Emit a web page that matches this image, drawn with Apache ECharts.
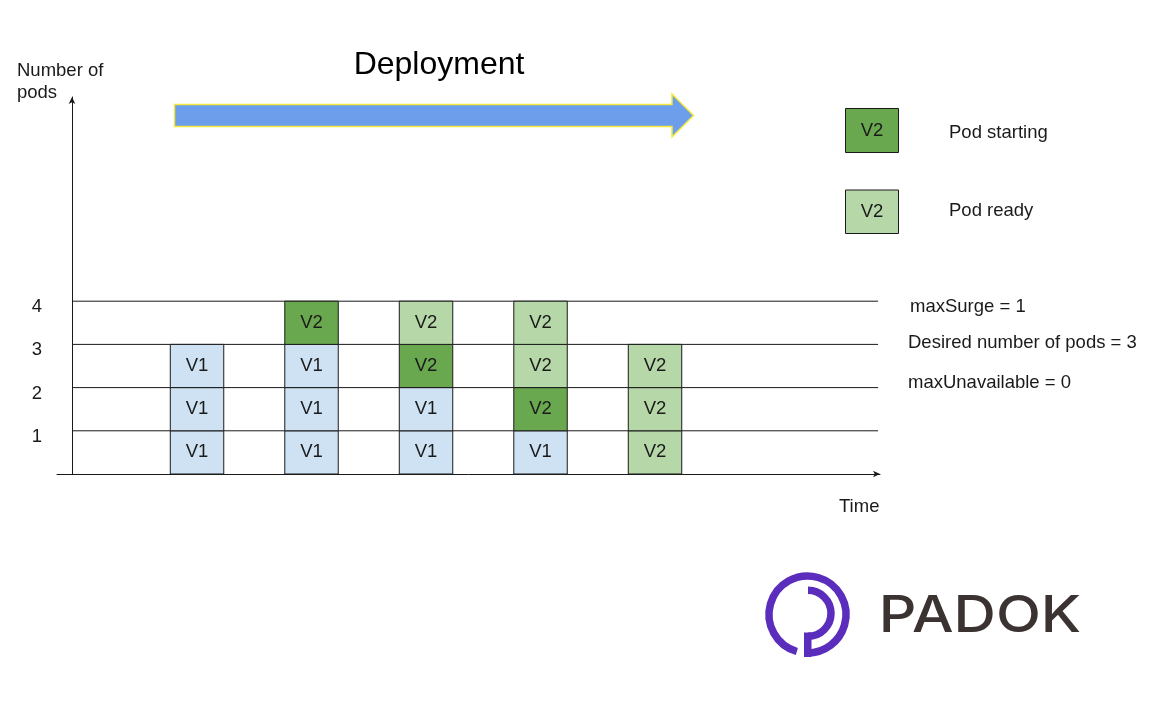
<!DOCTYPE html>
<html>
<head>
<meta charset="utf-8">
<style>
  html, body { margin: 0; padding: 0; background: #fff; }
  #main { width: 1165px; height: 711px; }
</style>
<script src="https://cdn.jsdelivr.net/npm/echarts@6/dist/echarts.min.js"></script>
</head>
<body>
<div id="main"></div>
<script>
// time position of each rollout step, y axis is at 0
const stepTimes = [1.092, 2.092, 3.092, 4.092, 5.092];
// pods of each step, bottom row first
const stepPods = [
  ['V1', 'V1', 'V1'],
  ['V1', 'V1', 'V1', 'V2 starting'],
  ['V1', 'V1', 'V2 starting', 'V2 ready'],
  ['V1', 'V2 starting', 'V2 ready', 'V2 ready'],
  ['V2 ready', 'V2 ready', 'V2 ready'],
];
const podLevels = [1, 2, 3, 4];
const notes = ['maxSurge = 1', 'Desired number of pods = 3', 'maxUnavailable = 0'];

const FONT = '"Liberation Sans", Arial, sans-serif';
const TEXT_SIZE = 18.5;
const INK = '#1a1a1a';
const POD_COLORS = {
  V1: '#cfe2f3',
  'V2 starting': '#6aa84f',
  'V2 ready': '#b6d7a8',
};
const POD_WIDTH = 0.467;

const cellData = [];
stepPods.forEach((pods, i) => {
  pods.forEach((pod, row) => {
    cellData.push([stepTimes[i], row, pod]);
  });
});

function renderPod(params, api) {
  const pod = cellData[params.dataIndex][2];
  const topLeft = api.coord([api.value(0) - POD_WIDTH / 2, api.value(1) + 1]);
  const bottomRight = api.coord([api.value(0) + POD_WIDTH / 2, api.value(1)]);
  return {
    type: 'rect',
    shape: {
      x: topLeft[0],
      y: topLeft[1],
      width: bottomRight[0] - topLeft[0],
      height: bottomRight[1] - topLeft[1],
    },
    style: { fill: POD_COLORS[pod], stroke: INK, lineWidth: 1 },
    textContent: {
      style: { text: pod.slice(0, 2), fill: INK, font: TEXT_SIZE + 'px ' + FONT },
    },
    textConfig: { position: 'inside' },
  };
}

function note(x, y, text) {
  return {
    type: 'text',
    x,
    y,
    silent: true,
    style: {
      text,
      fill: INK,
      font: TEXT_SIZE + 'px ' + FONT,
      verticalAlign: 'middle',
      lineHeight: 22,
    },
  };
}

function swatch(y, height, pod) {
  return {
    type: 'rect',
    shape: { x: 845.5, y, width: 53, height },
    style: { fill: POD_COLORS[pod], stroke: INK, lineWidth: 1 },
    textContent: {
      style: { text: 'V2', fill: INK, font: TEXT_SIZE + 'px ' + FONT },
    },
    textConfig: { position: 'inside' },
  };
}

const logoPurple = '#5b2dbd';
const graphics = [
  // deployment arrow
  {
    type: 'polygon',
    shape: {
      points: [[174.5, 104.5], [672, 104.5], [672, 94], [693.5, 115.5], [672, 137], [672, 126.5], [174.5, 126.5]],
    },
    style: { fill: '#6d9eeb', stroke: '#f5ea3c', lineWidth: 1.5 },
  },
  {
    type: 'text',
    x: 439,
    y: 65.5,
    style: {
      text: 'Deployment',
      fill: '#000',
      font: '32px ' + FONT,
      align: 'center',
      verticalAlign: 'middle',
    },
  },
  note(17, 82, 'Number of\npods'),
  swatch(108.5, 44, 'V2 starting'),
  swatch(190, 43.5, 'V2 ready'),
  note(949, 133, 'Pod starting'),
  note(949, 211, 'Pod ready'),
  note(910, 307, notes[0]),
  note(908, 343, notes[1]),
  note(908, 383, notes[2]),
  note(839, 507, 'Time'),
  // logo
  {
    type: 'arc',
    shape: { cx: 807.5, cy: 614.5, r: 38.5, startAngle: Math.PI / 2 + 0.28, endAngle: Math.PI * 2.5, clockwise: true },
    style: { fill: null, stroke: logoPurple, lineWidth: 7.5 },
  },
  {
    type: 'arc',
    shape: { cx: 808, cy: 613.3, r: 23, startAngle: -Math.PI / 2, endAngle: Math.PI / 2, clockwise: true },
    style: { fill: null, stroke: logoPurple, lineWidth: 7.5 },
  },
  {
    type: 'rect',
    shape: { x: 804, y: 632.5, width: 7.5, height: 24.5 },
    style: { fill: logoPurple },
  },
  {
    type: 'text',
    x: 980,
    y: 617,
    scaleX: 1.15,
    style: {
      text: 'PADOK',
      fill: '#3b3331',
      font: '500 51px Inter, sans-serif',
      align: 'center',
      verticalAlign: 'middle',
    },
  },
];

const chart = echarts.init(document.getElementById('main'), null, { renderer: 'canvas' });

chart.setOption({
  animation: false,
  backgroundColor: '#fff',
  grid: { left: 57, top: 97, width: 823, height: 377 },
  xAxis: {
    type: 'value',
    min: -0.131,
    max: 7.057,
    axisLine: { symbol: ['none', 'arrow'], symbolSize: [5, 7], lineStyle: { color: INK, width: 1 } },
    axisTick: { show: false },
    axisLabel: { show: false },
    splitLine: { show: false },
  },
  yAxis: {
    type: 'value',
    min: 0,
    max: 8.727,
    interval: 1,
    axisLine: { show: true, symbol: ['none', 'arrow'], symbolSize: [5, 7], lineStyle: { color: INK, width: 1 } },
    axisTick: { show: false },
    axisLabel: {
      margin: 15,
      color: INK,
      fontFamily: FONT,
      fontSize: TEXT_SIZE,
      verticalAlign: 'top',
      lineHeight: 12,
      formatter: (v) => (podLevels.includes(v) ? String(v) : ''),
    },
    splitLine: { show: false },
  },
  series: [
    ...podLevels.map((level) => ({
      type: 'line',
      silent: true,
      symbol: 'none',
      z: 1,
      lineStyle: { color: INK, width: 1 },
      data: [[0, level], [7.04, level]],
    })),
    {
      type: 'custom',
      z: 3,
      renderItem: renderPod,
      encode: { x: 0, y: 1 },
      data: cellData,
    },
  ],
  graphic: { elements: graphics },
});
</script>
</body>
</html>
